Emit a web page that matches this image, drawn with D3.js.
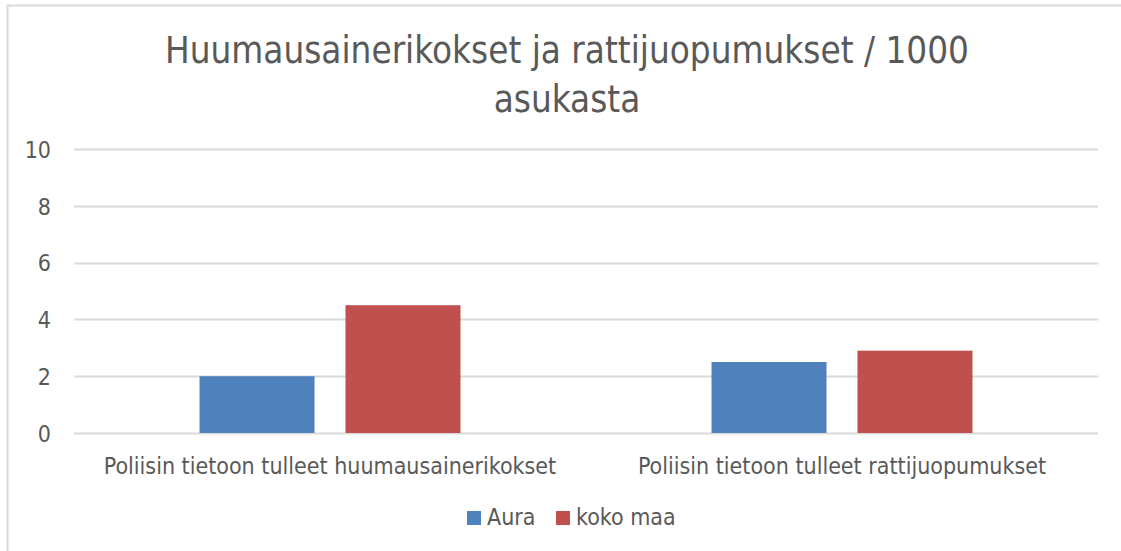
<!DOCTYPE html>
<html lang='fi'>
    <head>
        <meta charset='utf-8'>
        <title>Huumausainerikokset ja rattijuopumukset / 1000 asukasta</title>
        <script src="https://d3js.org/d3.v7.min.js" charset='utf-8'></script>
        <style type='text/css'>
            body { margin: 0; background: #fff; }
            svg { display: block; font-family: 'DejaVu Sans Condensed', 'Noto Sans', sans-serif; }
            text { fill: #595959; }
        </style>
    </head>
    <body>
        <script type='text/javascript'>
            var categories = ['Poliisin tietoon tulleet huumausainerikokset', 'Poliisin tietoon tulleet rattijuopumukset'];
            var seriesNames = ['Aura', 'koko maa'];
            var auraValues = [2.0, 2.5];
            var kokoMaaValues = [4.5, 2.9];
            var yTicks = [0, 2, 4, 6, 8, 10];
            var titleLines = ['Huumausainerikokset ja rattijuopumukset / 1000', 'asukasta'];
            var colors = ['#4f81bd', '#c0504d'];

            var width = 1121, height = 551;
            var plot = {left: 74, right: 1098, top: 149, bottom: 433};

            var svg = d3.select('body').append('svg')
                .attr('width', width)
                .attr('height', height);

            // chart frame (cropped at right and bottom)
            svg.append('rect')
                .attr('x', 7.5).attr('y', 5.5)
                .attr('width', 1130).attr('height', 560)
                .attr('fill', 'none')
                .attr('stroke', '#d9d9d9')
                .attr('stroke-width', 2);

            var y = d3.scaleLinear().domain([0, 10]).range([plot.bottom, plot.top]);
            var x0 = d3.scaleBand().domain(categories).range([plot.left, plot.right]);
            var x1 = d3.scaleBand().domain(seriesNames).range([0, x0.bandwidth()])
                .paddingInner(0.212).paddingOuter(0.86);

            // gridlines
            svg.append('g').selectAll('line').data(yTicks).join('line')
                .attr('x1', plot.left).attr('x2', plot.right)
                .attr('y1', function(d) { return Math.round(y(d)) + 0.5; })
                .attr('y2', function(d) { return Math.round(y(d)) + 0.5; })
                .attr('stroke', '#d9d9d9')
                .attr('stroke-width', 2);

            // y axis labels
            var yAxis = d3.axisLeft(y).tickValues(yTicks).tickSize(0).tickPadding(0)
                .tickFormat(d3.format('d'));
            var yg = svg.append('g')
                .attr('transform', 'translate(51,0)')
                .call(yAxis)
                .attr('font-family', null)
                .attr('font-size', 23);
            yg.select('.domain').remove();
            yg.selectAll('text')
                .attr('dy', '0.36em')
                .style('fill', '#595959');

            var rows = categories.map(function(c, i) {
                return {cat: c, values: [auraValues[i], kokoMaaValues[i]]};
            });

            // bars
            var groups = svg.append('g').selectAll('g').data(rows).join('g')
                .attr('transform', function(d) { return 'translate(' + x0(d.cat) + ',0)'; });
            groups.selectAll('rect')
                .data(function(d) { return d.values.map(function(v, j) { return {s: seriesNames[j], v: v, j: j}; }); })
                .join('rect')
                .attr('x', function(d) { return x1(d.s); })
                .attr('width', x1.bandwidth())
                .attr('y', function(d) { return y(d.v); })
                .attr('height', function(d) { return y(0) - y(d.v); })
                .attr('fill', function(d) { return colors[d.j]; });

            // x axis labels
            var xAxis = d3.axisBottom(x0).tickSize(0).tickPadding(0);
            var xg = svg.append('g')
                .attr('transform', 'translate(0,474)')
                .call(xAxis)
                .attr('font-family', null)
                .attr('font-size', 23);
            xg.select('.domain').remove();
            xg.selectAll('text')
                .attr('dy', 0)
                .attr('y', 0)
                .style('fill', '#595959');

            // title
            svg.append('text')
                .attr('x', 567)
                .attr('text-anchor', 'middle')
                .attr('font-size', 36.5)
                .selectAll('tspan').data(titleLines).join('tspan')
                .attr('x', 567)
                .attr('y', function(d, i) { return 63 + i * 48.5; })
                .text(function(d) { return d; });

            // legend
            var legendX = [467, 556];
            var legend = svg.append('g').selectAll('g').data(seriesNames).join('g')
                .attr('transform', function(d, i) { return 'translate(' + legendX[i] + ',511)'; });
            legend.append('rect')
                .attr('width', 14).attr('height', 14)
                .attr('fill', function(d, i) { return colors[i]; });
            legend.append('text')
                .attr('x', 20).attr('y', 14)
                .attr('font-size', 23)
                .text(function(d) { return d; });
        </script>
    </body>
</html>
